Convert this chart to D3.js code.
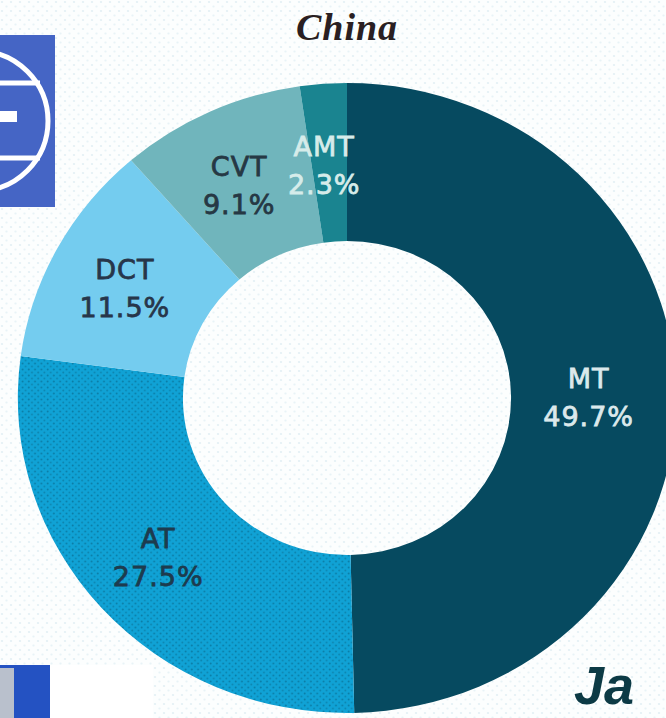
<!DOCTYPE html>
<html>
<head>
<meta charset="utf-8">
<script src="https://cdn.jsdelivr.net/npm/d3@7"></script>
<style>
  html, body { margin: 0; padding: 0; background: #fcfefe; overflow: hidden; }
  svg { display: block; }
</style>
</head>
<body>
<svg id="chart" width="666" height="718"></svg>
<script>
// transmission type market share, China
const categories = ["MT", "AT", "DCT", "CVT", "AMT"];
const shares = [49.7, 27.5, 11.5, 9.1, 2.3];
const sliceColors = ["#064a60", "#10a2d5", "#74ccef", "#70b5bc", "#1a8490"];
const labelColors = ["#dbe9ec", "#1d3b4e", "#27364a", "#263844", "#d6ecea"];
const titleText = "China";

const W = 666, H = 718;
const cx = 347, cy = 398;
const outerR = 315, innerR = 157;
const stretchX = 1.045; // the donut is slightly wider than tall
const labelR = 236;
const labelDx = -5;

const svg = d3.select("#chart");

// faint dotted paper texture
const defs = svg.append("defs");
const bgDots = defs.append("pattern")
  .attr("id", "bgDots")
  .attr("width", 9).attr("height", 9)
  .attr("patternUnits", "userSpaceOnUse");
bgDots.append("rect").attr("width", 9).attr("height", 9).attr("fill", "#fcfefe");
bgDots.append("circle").attr("cx", 2).attr("cy", 2).attr("r", 1.1).attr("fill", "#e3f0f5");
bgDots.append("circle").attr("cx", 6.5).attr("cy", 6.5).attr("r", 1.1).attr("fill", "#e8f3f7");

const atDots = defs.append("pattern")
  .attr("id", "atDots")
  .attr("width", 6).attr("height", 6)
  .attr("patternUnits", "userSpaceOnUse");
atDots.append("rect").attr("width", 6).attr("height", 6).attr("fill", sliceColors[1]);
atDots.append("circle").attr("cx", 1.5).attr("cy", 1.5).attr("r", 0.9).attr("fill", "#0b7da6");
atDots.append("circle").attr("cx", 4.5).attr("cy", 4.5).attr("r", 0.9).attr("fill", "#0d86b0");

svg.append("rect").attr("width", W).attr("height", H).attr("fill", "url(#bgDots)");

// title
svg.append("text")
  .attr("x", cx)
  .attr("y", 40)
  .attr("text-anchor", "middle")
  .attr("font-family", "'Liberation Serif', 'DejaVu Serif', serif")
  .attr("font-weight", "bold")
  .attr("font-style", "italic")
  .attr("font-size", 38)
  .attr("letter-spacing", 1)
  .attr("fill", "#2a1f22")
  .text(titleText);

// donut
const pie = d3.pie().sort(null).value((d) => d)(shares);
const arc = d3.arc().innerRadius(innerR).outerRadius(outerR);
const labelArc = d3.arc().innerRadius(labelR).outerRadius(labelR);

const g = svg.append("g")
  .attr("transform", `translate(${cx},${cy}) scale(${stretchX},1)`);

g.selectAll("path")
  .data(pie)
  .join("path")
  .attr("d", arc)
  .attr("fill", (d, i) => (i === 1 ? "url(#atDots)" : sliceColors[i]));

// labels
const labels = svg.append("g")
  .attr("font-family", "'DejaVu Sans', Verdana, sans-serif")
  .attr("font-size", 27)
  .attr("letter-spacing", 1)
  .attr("text-anchor", "middle");

pie.forEach((d, i) => {
  const [lx, ly] = labelArc.centroid(d);
  const x = cx + lx * stretchX + labelDx;
  const y = cy + ly;
  const t = labels.append("text")
    .attr("fill", labelColors[i])
    .attr("stroke", labelColors[i])
    .attr("stroke-width", 0.8);
  t.append("tspan").attr("x", x).attr("y", y - 7).text(categories[i]);
  t.append("tspan").attr("x", x).attr("y", y + 31).text(shares[i].toFixed(1) + "%");
});

// screenshot overlays: logos at the corners
const logo = svg.append("g");
logo.append("clipPath").attr("id", "logoClip")
  .append("rect").attr("x", 0).attr("y", 35).attr("width", 55).attr("height", 172);
logo.append("rect").attr("x", 0).attr("y", 35).attr("width", 55).attr("height", 172).attr("fill", "#4565c5");
const lg = logo.append("g").attr("clip-path", "url(#logoClip)");
lg.append("circle").attr("cx", -22).attr("cy", 121).attr("r", 70)
  .attr("fill", "none").attr("stroke", "#fff").attr("stroke-width", 5);
lg.append("line").attr("x1", 0).attr("x2", 40).attr("y1", 83).attr("y2", 83)
  .attr("stroke", "#fff").attr("stroke-width", 5);
lg.append("line").attr("x1", 0).attr("x2", 40).attr("y1", 158).attr("y2", 158)
  .attr("stroke", "#fff").attr("stroke-width", 5);
lg.append("rect").attr("x", 0).attr("y", 111).attr("width", 17).attr("height", 11).attr("fill", "#fff");

svg.append("rect").attr("x", 0).attr("y", 665).attr("width", 153).attr("height", 53).attr("fill", "#ffffff");
svg.append("rect").attr("x", 0).attr("y", 665).attr("width", 50).attr("height", 53).attr("fill", "#2452c2");
svg.append("rect").attr("x", 0).attr("y", 668).attr("width", 14).attr("height", 50).attr("fill", "#b9c0cc");

svg.append("text")
  .attr("x", 574)
  .attr("y", 704)
  .attr("font-family", "'Liberation Sans', Arial, sans-serif")
  .attr("font-weight", "bold")
  .attr("font-style", "italic")
  .attr("font-size", 54)
  .attr("fill", "#0c3a45")
  .text("Ja");
</script>
</body>
</html>
